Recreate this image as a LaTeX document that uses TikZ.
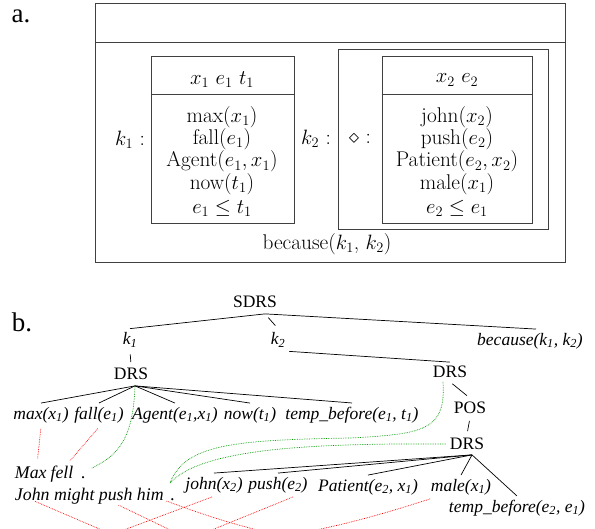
\documentclass[tikz,border=0pt]{standalone}
\usepackage{fontspec}
\newfontfamily\timesfont{Liberation Serif}
\usetikzlibrary{positioning,calc}

\tikzset{
  drsline/.style={draw=black!75, line width=0.8pt, inner sep=0pt},
  cmtext/.style={font=\fontsize{21.3}{22.3}\selectfont, inner sep=1pt},
  cond/.style={cmtext, inner sep=0pt, anchor=base},
  panel/.style={font=\timesfont\fontsize{27}{27}\selectfont},
  treetext/.style={font=\timesfont\fontsize{17.5}{20}\selectfont, inner sep=2pt, outer sep=2pt},
  pred/.style={font=\timesfont\itshape\fontsize{17.5}{20}\selectfont, inner sep=2pt, outer sep=2pt},
  word/.style={font=\timesfont\itshape\fontsize{17.8}{20}\selectfont, inner sep=0pt, outer sep=0pt},
  branch/.style={black, line width=0.7pt},
  redlink/.style={red, densely dotted, line width=0.7pt},
  greenlink/.style={green!60!black, densely dotted, line width=0.7pt},
}

\begin{document}
\begin{tikzpicture}[x=1pt, y=-1pt]
  \useasboundingbox (0,0) rectangle (595,528);
  \clip (0,0) rectangle (595,528);

  % a. the SDRS drawn as boxes
  \node[panel] (lab_a) at (21,16) {a.};
  \node[drsline, minimum width=470pt, minimum height=259pt] (sdrs_box) at (330,132.5) {};
  \draw[drsline] (sdrs_box.west |- 0,42) -- (sdrs_box.east |- 0,42);

  % first segment k1
  \node[drsline, minimum width=143pt, minimum height=167pt] (drs_k1) at (222.5,139.5) {};
  \draw[drsline] (drs_k1.west |- 0,94) -- (drs_k1.east |- 0,94);
  \node[cmtext] (refs_k1) at (222,80) {$x_1\ e_1\ t_1$};
  \foreach \t [count=\i] in {max($x_1$), fall($e_1$), {Agent($e_1, x_1$)}, now($t_1$)}
    \node[cond] (cond_k1_\i) at (222,100+22.3*\i) {\t};
  \node[cond] (cond_k1_5) at (222,213.5) {$e_1 \leq t_1$};
  \node[cmtext] (lab_k1) at (130,140) {$k_1$ :};

  % second segment k2, under the possibility operator
  \node[drsline, minimum width=210pt, minimum height=180pt] (pos_box) at (443,139) {};
  \node[drsline, minimum width=150pt, minimum height=167pt] (drs_k2) at (457,139.5) {};
  \draw[drsline] (drs_k2.west |- 0,94) -- (drs_k2.east |- 0,94);
  \node[cmtext] (refs_k2) at (457,80) {$x_2\ e_2$};
  \foreach \t [count=\i] in {john($x_2$), push($e_2$), {Patient($e_2, x_2$)}, male($x_1$)}
    \node[cond] (cond_k2_\i) at (457,100+22.3*\i) {\t};
  \node[cond] (cond_k2_5) at (457,213.5) {$e_2 \leq e_1$};
  \node[cmtext] (lab_k2) at (316,139) {$k_2$ :};
  \node[cmtext] (lab_pos) at (360,139) {$\diamond$ :};
  \node[cmtext] (rel_box) at (327,244) {because($k_1$, $k_2$)};

  % b. the same SDRS as a tree
  \node[panel] (lab_b) at (22,322) {b.};
  \node[treetext] (sdrs) at (255,302) {SDRS};
  \node[pred] (k1) at (130,340) {k\textsubscript{1}};
  \node[pred] (k2) at (278,340) {k\textsubscript{2}};
  \node[pred] (because) at (530,341) {because(k\textsubscript{1}, k\textsubscript{2})};
  \node[treetext] (drs_a) at (131,374) {DRS};
  \node[treetext] (drs_b) at (450,372) {DRS};
  \node[treetext] (pos) at (470,408) {POS};
  \node[treetext] (drs_c) at (467,444) {DRS};

  \coordinate (sdrs_fork) at ($(sdrs.south)+(10,2)$);
  \draw[branch] (sdrs_fork) -- (k1.north);
  \draw[branch, shorten <=5pt, shorten >=4pt] (sdrs_fork) -- (k2.north);
  \draw[branch] (sdrs_fork) -- ($(because.north)+(6,0)$);
  \draw[branch, shorten <=3pt, shorten >=2pt] (k1.south) -- (drs_a.north);
  \draw[branch] (k2.south east) -- (drs_b.north);
  \draw[branch, shorten <=3pt, shorten >=4pt] (drs_b.south) -- (pos.north);
  \draw[branch, shorten <=3pt, shorten >=3pt] (pos.south) -- (drs_c.north);

  % conditions of k1
  \node[pred] (p_max) at (41,415) {max(x\textsubscript{1})};
  \node[pred] (p_fall) at (99,415) {fall(e\textsubscript{1})};
  \node[pred] (p_agent) at (175,415) {Agent(e\textsubscript{1},x\textsubscript{1})};
  \node[pred] (p_now) at (250,415) {now(t\textsubscript{1})};
  \node[pred] (p_temp_a) at (352,415) {temp\_before(e\textsubscript{1}, t\textsubscript{1})};
  \coordinate (drs_a_fork) at ($(drs_a.south)+(4,2)$);
  \foreach \c in {p_max, p_fall, p_agent, p_now, p_temp_a}
    \draw[branch] (drs_a_fork) -- (\c.north);

  % conditions of k2
  \node[pred] (p_john) at (214,485) {john(x\textsubscript{2})};
  \node[pred] (p_push) at (278,485) {push(e\textsubscript{2})};
  \node[pred] (p_patient) at (368,487) {Patient(e\textsubscript{2},\ x\textsubscript{1})};
  \node[pred] (p_male) at (461,487) {male(x\textsubscript{1})};
  \node[pred] (p_temp_b) at (517,508) {temp\_before(e\textsubscript{2}, e\textsubscript{1})};
  \coordinate (drs_c_fork) at ($(drs_c.south)+(5,1)$);
  \foreach \c in {p_john, p_push, p_patient, p_male, p_temp_b}
    \draw[branch] (drs_c_fork) -- (\c.north);

  % the text, one node per word (on one baseline)
  \node[word, anchor=base west] (w_max) at (15,478) {Max};
  \node[word, base right=4pt of w_max] (w_fell) {fell};
  \node[word, base right=8pt of w_fell] (w_dot_a) {.};
  \node[word, anchor=base west] (w_john) at (15,500) {John};
  \node[word, base right=4.4pt of w_john] (w_might) {might};
  \node[word, base right=4.4pt of w_might] (w_push) {push};
  \node[word, base right=4.4pt of w_push] (w_him) {him};
  \node[word, base right=7pt of w_him] (w_dot_b) {.};

  % red: conditions to words
  \draw[redlink, shorten <=2pt, shorten >=8pt] (p_max.south) -- ($(w_max.north)+(6,0)$);
  \draw[redlink, shorten <=2pt, shorten >=6pt] (p_fall.south) -- ($(w_fell.north)+(4,0)$);
  \coordinate (cut_john) at (125,540);
  \coordinate (cut_push) at (191,540);
  \coordinate (cut_him) at (300,540);
  \coordinate (cut_p_john) at (97,540);
  \coordinate (cut_p_push) at (187,540);
  \coordinate (cut_p_male) at (263,540);
  \draw[redlink, shorten <=3pt] (w_john.south) -- (cut_john);
  \draw[redlink, shorten <=3pt] (w_push.south) -- (cut_push);
  \draw[redlink, shorten <=3pt] (w_him.south east) to[bend right=4] (cut_him);
  \draw[redlink] ($(p_john.south)+(-2,0)$) -- (cut_p_john);
  \draw[redlink] ($(p_push.south)+(15,0)$) -- (cut_p_push);
  \draw[redlink] ($(p_male.south)+(-31,0)$) to[bend left=4] (cut_p_male);

  % green: DRSs to the sentence ends
  \draw[greenlink] (drs_a_fork) .. controls (133,440) and (118,455) .. ($(w_dot_a.north east)+(6,-8)$);
  \draw[greenlink] ($(drs_b.south)+(-7,0)$) .. controls (446,430) and (425,434) .. (350,438)
    .. controls (230,440) and (185,445) .. ($(w_dot_b.north)+(-3,-15)$);
  \draw[greenlink] (drs_c.west) .. controls (300,443) and (200,450) .. ($(w_dot_b.north)+(-3,-15)$);
\end{tikzpicture}
\end{document}
